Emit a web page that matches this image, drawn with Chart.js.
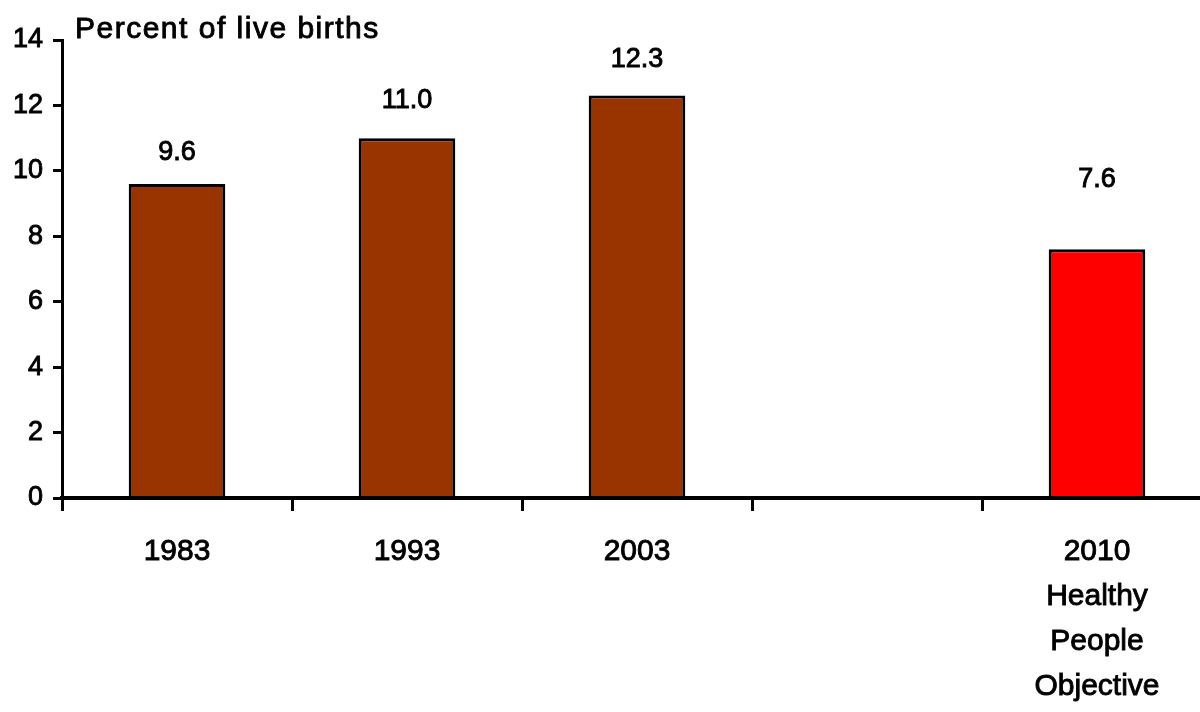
<!DOCTYPE html>
<html>
<head>
<meta charset="utf-8">
<script src="https://cdn.jsdelivr.net/npm/chart.js@4/dist/chart.umd.min.js"></script>
<style>
  html, body { margin: 0; padding: 0; background: #fff; overflow: hidden; width: 1200px; height: 712px; }
  canvas { display: block; }
</style>
</head>
<body>
<canvas id="chart" width="1215" height="712"></canvas>
<script>
// Low birthweight share of live births, by year, with the 2010 target
const categories = ['1983', '1993', '2003', '', ['2010', 'Healthy', 'People', 'Objective']];
const percentValues = [9.6, 11.0, 12.3, null, 7.6];
const yTickValues = [0, 2, 4, 6, 8, 10, 12, 14];
const yAxisTitle = 'Percent of live births';

// Styling
const FONT = '"Liberation Sans", Arial, sans-serif';
const barColors = ['#993300', '#993300', '#993300', '#993300', '#FF0000'];
const labelGaps = [31, 38, 36, 0, 70]; // px between a bar top and its value label centre
const TEXT_STROKE = 0.9;

const valueLabelPlugin = {
  id: 'valueLabels',
  afterDatasetsDraw(chart) {
    const ctx = chart.ctx;
    const meta = chart.getDatasetMeta(0);
    ctx.save();
    ctx.font = '27px ' + FONT;
    ctx.fillStyle = '#000';
    ctx.strokeStyle = '#000';
    ctx.lineWidth = TEXT_STROKE;
    ctx.textAlign = 'center';
    ctx.textBaseline = 'middle';
    meta.data.forEach((bar, i) => {
      const v = percentValues[i];
      if (v === null || v === undefined) return;
      const y = bar.y - labelGaps[i];
      ctx.strokeText(v.toFixed(1), bar.x, y);
      ctx.fillText(v.toFixed(1), bar.x, y);
    });
    ctx.restore();
  }
};

const axisTitlePlugin = {
  id: 'axisTitle',
  afterDraw(chart) {
    const ctx = chart.ctx;
    ctx.save();
    ctx.font = '30px ' + FONT;
    ctx.fillStyle = '#000';
    ctx.strokeStyle = '#000';
    ctx.lineWidth = TEXT_STROKE;
    ctx.textAlign = 'left';
    ctx.textBaseline = 'alphabetic';
    if ('letterSpacing' in ctx) ctx.letterSpacing = '1.5px';
    const x = chart.chartArea.left + 13;
    ctx.strokeText(yAxisTitle, x, 38);
    ctx.fillText(yAxisTitle, x, 38);
    ctx.restore();
  }
};

new Chart(document.getElementById('chart'), {
  type: 'bar',
  data: {
    labels: categories,
    datasets: [{
      data: percentValues,
      backgroundColor: barColors,
      borderColor: '#000',
      borderWidth: 3,
      categoryPercentage: 1.0,
      barPercentage: 0.42
    }]
  },
  options: {
    responsive: false,
    animation: false,
    devicePixelRatio: 1,
    layout: { padding: { top: 40, right: 3, bottom: 0, left: 0 } },
    plugins: {
      legend: { display: false },
      tooltip: { enabled: false },
      title: { display: false }
    },
    scales: {
      x: {
        offset: true,
        grid: {
          offset: true,
          drawOnChartArea: false,
          drawTicks: true,
          tickLength: 13,
          tickWidth: 3,
          tickColor: '#000',
          color: '#000',
          lineWidth: 3
        },
        border: { display: true, color: '#000', width: 4, z: 1 },
        ticks: {
          color: '#000',
          textStrokeColor: '#000',
          textStrokeWidth: TEXT_STROKE,
          font: { family: FONT, size: 30, lineHeight: 1.5 },
          padding: 18,
          maxRotation: 0,
          autoSkip: false
        },
        afterFit(axis) { axis.height = 214; }
      },
      y: {
        min: 0,
        max: 14,
        afterBuildTicks(axis) { axis.ticks = yTickValues.map(v => ({ value: v })); },
        grid: {
          drawOnChartArea: false,
          drawTicks: true,
          tickLength: 9,
          tickWidth: 3,
          tickColor: '#000',
          color: '#000',
          lineWidth: 3
        },
        border: { display: true, color: '#000', width: 3, z: 1 },
        ticks: {
          color: '#000',
          textStrokeColor: '#000',
          textStrokeWidth: TEXT_STROKE,
          font: { family: FONT, size: 27 },
          padding: 10
        },
        afterFit(axis) { axis.width = 62; }
      }
    }
  },
  plugins: [valueLabelPlugin, axisTitlePlugin]
});
</script>
</body>
</html>
